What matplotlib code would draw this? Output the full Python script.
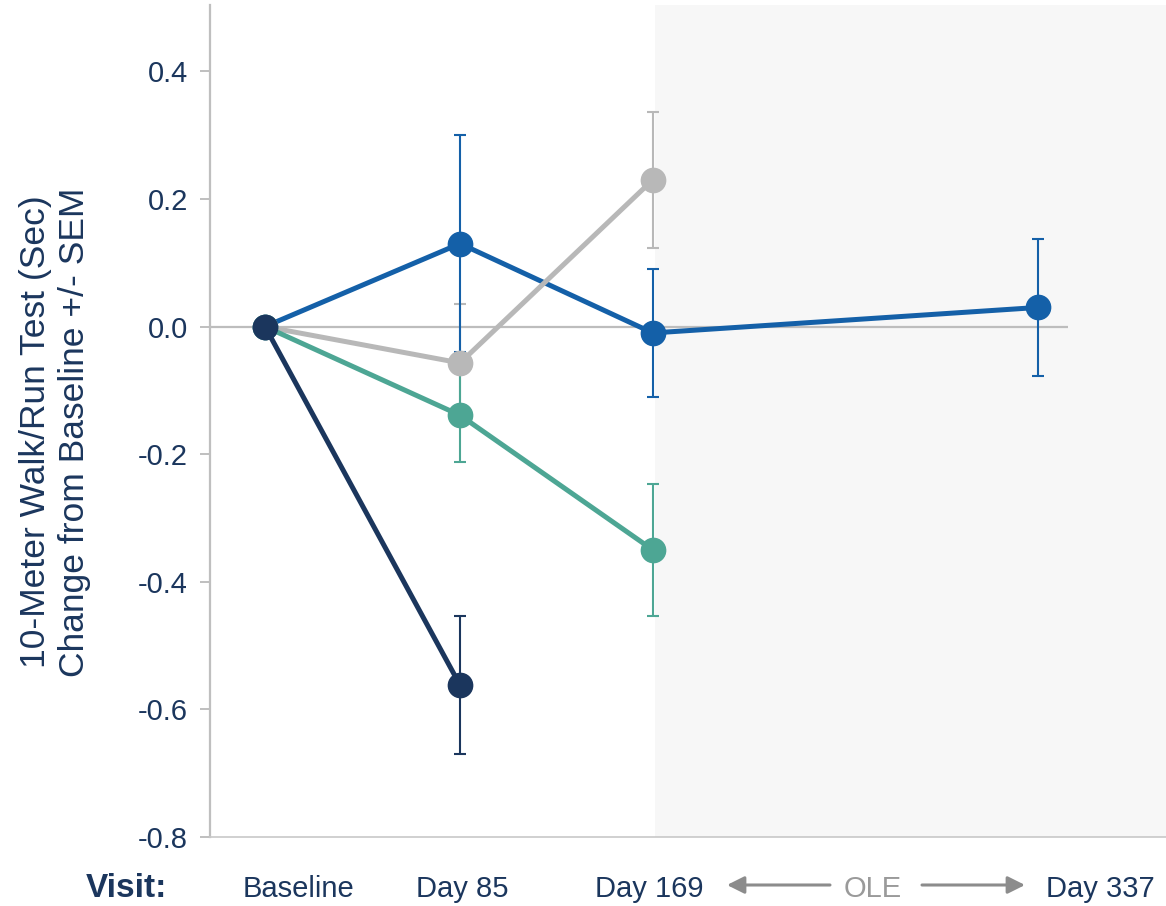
import numpy as np
import matplotlib
matplotlib.use("Agg")
import matplotlib.pyplot as plt

plt.rcParams['font.family'] = ['Liberation Sans', 'DejaVu Sans']
plt.rcParams['axes.unicode_minus'] = False

# data: visit day, mean change from baseline, SEM
blue_days = [0, 85, 169, 337]
blue_mean = [0.0, 0.130, -0.010, 0.030]
blue_sem = [0.0, 0.170, 0.100, 0.107]

gray_days = [0, 85, 169]
gray_mean = [0.0, -0.057, 0.230]
gray_sem = [0.0, 0.092, 0.107]

teal_days = [0, 85, 169]
teal_mean = [0.0, -0.139, -0.350]
teal_sem = [0.0, 0.074, 0.103]

navy_days = [0, 85]
navy_mean = [0.0, -0.562]
navy_sem = [0.0, 0.108]

yticks = [0.4, 0.2, 0.0, -0.2, -0.4, -0.6, -0.8]
visit_labels = ['Baseline', 'Day 85', 'Day 169', 'Day 337']
visit_label_px = [299, 462, 649, 1100]
ole_start = 170

NAVY = '#1b365d'
BLUE = '#1460a8'
TEAL = '#4da694'
GRAY = '#b8b8b8'
W, H = 1166, 906

fig = plt.figure(figsize=(W / 100, H / 100), dpi=100)
ax = fig.add_axes([210 / W, (H - 837) / H, (W - 210) / W, (837 - 5) / H])

x_left = (210 - 265) / 2.2947
x_right = (W - 265) / 2.2947
ax.set_xlim(x_left, x_right)
ax.set_ylim(-0.8, 0.504)

ax.axvspan(ole_start, x_right, color='#f7f7f7', zorder=0, lw=0)
ax.hlines(0, x_left, 350, color='#bdbdbd', lw=1.6, zorder=1)

# error bars first (gray lowest), then lines + markers
err_order = [
    (gray_days, gray_mean, gray_sem, GRAY),
    (blue_days, blue_mean, blue_sem, BLUE),
    (teal_days, teal_mean, teal_sem, TEAL),
    (navy_days, navy_mean, navy_sem, NAVY),
]
for i, (d, m, s, c) in enumerate(err_order):
    ax.errorbar(d[1:], m[1:], yerr=s[1:], fmt='none', ecolor=c,
                elinewidth=1.5, capsize=4.5, capthick=1.5, zorder=2 + i * 0.1)

line_order = [
    (blue_days, blue_mean, BLUE),
    (gray_days, gray_mean, GRAY),
    (teal_days, teal_mean, TEAL),
    (navy_days, navy_mean, NAVY),
]
for i, (d, m, c) in enumerate(line_order):
    ax.plot(d, m, '-o', color=c, lw=3.6, ms=17.5, zorder=3 + i)

ax.set_xticks([])
ax.set_yticks(yticks)
ax.set_yticklabels([f'{v:.1f}' for v in yticks])
ax.tick_params(axis='y', length=7, width=1.4, color='#bfbfbf',
               labelsize=21, labelcolor=NAVY, pad=9)
for side in ['top', 'right']:
    ax.spines[side].set_visible(False)
ax.spines['left'].set_color('#bfbfbf')
ax.spines['left'].set_linewidth(1.6)
ax.spines['bottom'].set_color('#c8c8c8')
ax.spines['bottom'].set_linewidth(1.2)

fig.text(55 / W, (H - 432) / H,
         '10-Meter Walk/Run Test (Sec)\nChange from Baseline +/- SEM',
         rotation=90, ha='center', va='center', fontsize=25.5,
         color=NAVY, linespacing=1.2)

base_y = (H - 897) / H
fig.text(126 / W, base_y, 'Visit:', ha='center', va='baseline',
         fontsize=24, fontweight='bold', color=NAVY)
for lab, px in zip(visit_labels, visit_label_px):
    fig.text(px / W, base_y, lab, ha='center', va='baseline',
             fontsize=21, color=NAVY)

fig.text(873 / W, base_y, 'OLE', ha='center', va='baseline',
         fontsize=21, color='#9a9a9a')
arr_y = (H - 885) / H
arrow = dict(arrowstyle='-|>', color='#8c8c8c', lw=2.2,
             mutation_scale=26, shrinkA=0, shrinkB=0)
fig.add_artist(matplotlib.patches.FancyArrowPatch(
    (830 / W, arr_y), (727 / W, arr_y), transform=fig.transFigure, **arrow))
fig.add_artist(matplotlib.patches.FancyArrowPatch(
    (922 / W, arr_y), (1025 / W, arr_y), transform=fig.transFigure, **arrow))

fig.savefig('out.png', dpi=100)
